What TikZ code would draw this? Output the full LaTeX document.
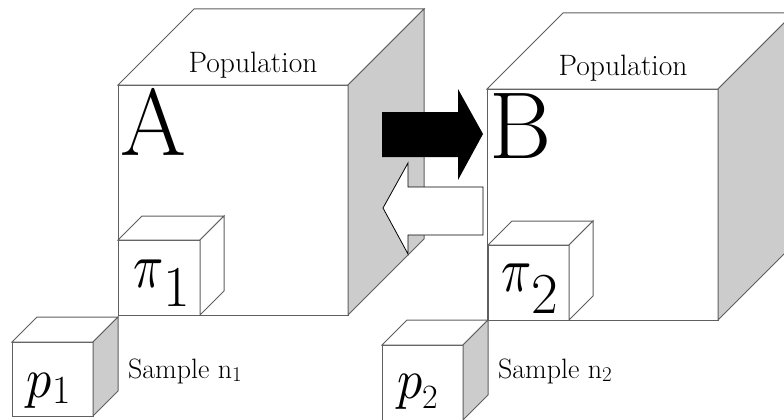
\documentclass[tikz,border=0pt]{standalone}
\definecolor{EdgeGray}{RGB}{95,95,95}
\definecolor{SideGray}{RGB}{204,204,204}
\usepackage{tikz}
\newcommand{\lowsub}[3]{\raisebox{-#1pt}{\fontsize{#2}{#2}\selectfont #3}}
\newcommand{\bigsym}[3]{\scalebox{#1}[#2]{$#3$}}

\begin{document}
\begin{tikzpicture}[
    x=1pt, y=-1pt,
    edge/.style={draw=EdgeGray, line width=1pt, line join=miter},
    every node/.style={inner sep=0pt, outer sep=0pt},
    biglabel/.style={font=\fontsize{95}{95}\selectfont},
    poplabel/.style={font=\fontsize{29.5}{30}\selectfont},
    samplelabel/.style={font=\fontsize{28}{28}\selectfont},
    pics/cube/.style n args={4}{code={
        \draw[edge, fill=white] (0,0) rectangle (#1,#2);
        \draw[edge, fill=white] (0,0) -- ++(#3,-#3) -- ++(#1,0) -- (#1,0) -- cycle;
        \draw[edge, fill=#4] (#1,0) -- ++(#3,-#3) -- ++(0,#2) -- (#1,#2) -- cycle;
    }}
]
\path[use as bounding box, clip] (0,0) rectangle (784,420);

% Populations
\pic at (118,85) {cube={230}{230}{76}{SideGray}};
\pic at (487,89) {cube={231}{231}{76}{SideGray}};

% Block arrows between A and B
\fill[black] (382,112) -- (458,112) -- (458,89) -- (483,134) -- (458,180) -- (458,157) -- (382,157) -- cycle;
\draw[fill=white, line width=0.8pt] (483,187) -- (408,187) -- (408,163) -- (383,208) -- (408,254) -- (408,235) -- (483,235) -- cycle;

% Parameters and samples
\pic at (118,240) {cube={82}{75}{24}{white}};
\pic at (488,245) {cube={81}{75}{24}{white}};
\pic at (12,342) {cube={81}{74}{25}{SideGray}};
\pic at (382,345) {cube={81}{75}{25}{SideGray}};

% Labels
\node[poplabel, anchor=base] (popA) at (253,72) {Population};
\node[poplabel, anchor=base] (popB) at (623,75) {Population};
\node[biglabel, anchor=base west] (labA) at (120,155) {A};
\node[biglabel, anchor=base west] (labB) at (489,158) {B};
\node[anchor=base west] (piA) at (133,287) {\bigsym{5}{6.4}{\pi}\lowsub{19}{58}{1}};
\node[anchor=base west] (piB) at (501,291) {\bigsym{5}{6.4}{\pi}\lowsub{22}{58}{2}};
\node[anchor=base west] (pA) at (27,397) {\bigsym{5}{5.6}{p}\lowsub{6}{40}{1}};
\node[anchor=base west] (pB) at (397,398) {\bigsym{5}{5.6}{p}\lowsub{10}{34}{2}};
\node[samplelabel, anchor=base west] (sampA) at (128,378) {Sample n\lowsub{3}{21}{1}};
\node[samplelabel, anchor=base west] (sampB) at (498,378) {Sample n\lowsub{3}{21}{2}};
\end{tikzpicture}
\end{document}
